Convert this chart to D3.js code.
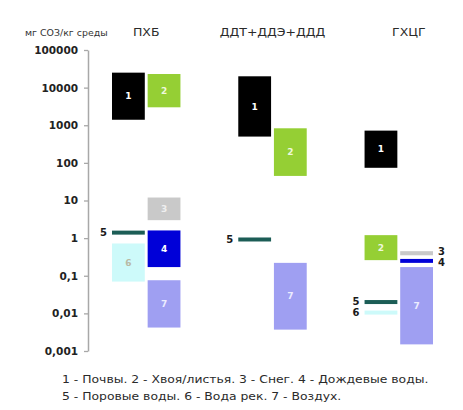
<!DOCTYPE html>
<html>
<head>
<meta charset="utf-8">
<script src="https://cdn.jsdelivr.net/npm/d3@7"></script>
<style>
  html, body { margin: 0; padding: 0; background: #fff; }
  svg { display: block; font-family: "DejaVu Sans", sans-serif; }
</style>
</head>
<body>
<svg id="chart" width="463" height="410"></svg>
<script>
// Groups of pollutants and the media numbered in the legend
const groups = ["ПХБ", "ДДТ+ДДЭ+ДДД", "ГХЦГ"];
const mediaCodes = [1, 2, 3, 4, 5, 6, 7];
const mediaNames = ["Почвы", "Хвоя/листья", "Снег", "Дождевые воды", "Поровые воды", "Вода рек", "Воздух"];

// Concentration ranges, mg POP per kg of medium (low == high means a single level)
const markGroup  = ["ПХБ", "ПХБ", "ПХБ", "ПХБ", "ПХБ", "ПХБ", "ПХБ",
                    "ДДТ+ДДЭ+ДДД", "ДДТ+ДДЭ+ДДД", "ДДТ+ДДЭ+ДДД", "ДДТ+ДДЭ+ДДД",
                    "ГХЦГ", "ГХЦГ", "ГХЦГ", "ГХЦГ", "ГХЦГ", "ГХЦГ", "ГХЦГ"];
const markCode   = [1, 2, 3, 5, 4, 6, 7,
                    1, 2, 5, 7,
                    1, 2, 3, 4, 7, 5, 6];
const markColumn = [0, 1, 1, 0, 1, 0, 1,
                    0, 1, 0, 1,
                    0, 0, 1, 1, 1, 0, 0];
const markLow    = [1400, 3000, 3, 1.4, 0.17, 0.07, 0.0042,
                    500, 45, 0.92, 0.0037,
                    74, 0.26, 0.35, 0.22, 0.0015, 0.02, 0.0105];
const markHigh   = [25000, 23000, 12, 1.4, 1.6, 0.72, 0.076,
                    20000, 830, 0.92, 0.22,
                    720, 1.2, 0.45, 0.28, 0.17, 0.02, 0.0105];

// Axis ticks
const tickValues = [0.001, 0.01, 0.1, 1, 10, 100, 1000, 10000, 100000];
const tickLabels = ["0,001", "0,01", "0,1", "1", "10", "100", "1000", "10000", "100000"];
const unitLabel = "мг СОЗ/кг среды";

// Colours per medium
const fillColor  = {1: "#000000", 2: "#95cf34", 3: "#c9c9c9", 4: "#0000d8", 5: "#1c5d56", 6: "#cdfafa", 7: "#9f9ff2"};
const labelColor = {1: "#ffffff", 2: "#eef8dc", 3: "#efefef", 4: "#ffffff", 5: "#ffffff", 6: "#b9b9a4", 7: "#ececff"};

const svg = d3.select("#chart");

const y = d3.scaleLog().domain([0.001, 100000]).range([351, 50]);
const xGroup = d3.scaleBand().domain(groups).range([112, 433]).paddingInner(0.458).paddingOuter(0);
const xCol = d3.scaleBand().domain([0, 1]).range([0, xGroup.bandwidth()]).paddingInner(0.08);

// Y axis
const axis = d3.axisLeft(y)
  .tickValues(tickValues)
  .tickFormat((d, i) => tickLabels[i])
  .tickSize(4)
  .tickSizeOuter(0);

const axisG = svg.append("g").attr("transform", "translate(88,0)").call(axis);
axisG.select(".domain").attr("stroke", "#a8a8a8").attr("stroke-width", 1.5);
axisG.selectAll(".tick line").attr("stroke", "#a8a8a8").attr("stroke-width", 1.3);
axisG.selectAll(".tick text")
  .attr("x", -10)
  .attr("fill", "#222")
  .style("font-family", "'DejaVu Sans', sans-serif")
  .style("font-weight", "bold")
  .style("font-size", "10.5px");

// Unit label and group titles (set slightly wide)
svg.append("text")
  .attr("transform", "translate(25,36) scale(1.12,1)")
  .attr("fill", "#333")
  .style("font-size", "8.4px")
  .text(unitLabel);

svg.selectAll("g.group-title")
  .data(groups)
  .join("g")
  .attr("class", "group-title")
  .attr("transform", d => `translate(${xGroup(d) + xGroup.bandwidth() / 2 + (d === "ГХЦГ" ? 10 : 0)},36) scale(1.25,1)`)
  .append("text")
  .attr("text-anchor", "middle")
  .attr("fill", "#2a2a2a")
  .style("font-size", "10px")
  .text(d => d);

// Marks
const marks = markCode.map((c, i) => ({
  group: markGroup[i], code: c, col: markColumn[i], low: markLow[i], high: markHigh[i]
}));

marks.forEach(m => {
  const x0 = xGroup(m.group) + xCol(m.col);
  const w = xCol.bandwidth();
  let top, h;
  if (m.low === m.high) {
    h = 4;
    top = y(m.low) - h / 2;
  } else {
    top = y(m.high);
    h = y(m.low) - y(m.high);
  }
  m.x = x0; m.w = w; m.top = top; m.h = h;
  m.inside = h >= 12;
  m.ly = top + h / 2;
});

// Spread outside labels that sit too close to one another
const minGap = 11;
d3.groups(marks.filter(m => !m.inside), m => m.group + "|" + m.col).forEach(([, list]) => {
  list.sort((a, b) => a.ly - b.ly);
  for (let i = 1; i < list.length; i++) {
    const gap = list[i].ly - list[i - 1].ly;
    if (gap < minGap) {
      const push = (minGap - gap) / 2;
      list[i - 1].ly -= push;
      list[i].ly += push;
    }
  }
});

svg.append("g").selectAll("rect")
  .data(marks)
  .join("rect")
  .attr("x", d => d.x)
  .attr("y", d => d.top)
  .attr("width", d => d.w)
  .attr("height", d => d.h)
  .attr("fill", d => fillColor[d.code]);

// Numbers: inside tall bars, beside thin marks
svg.append("g").selectAll("text")
  .data(marks)
  .join("text")
  .attr("x", d => d.inside ? d.x + d.w / 2 : (d.col === 0 ? d.x - 5 : d.x + d.w + 5))
  .attr("y", d => d.ly)
  .attr("dy", "0.36em")
  .attr("text-anchor", d => d.inside ? "middle" : (d.col === 0 ? "end" : "start"))
  .attr("fill", d => d.inside ? labelColor[d.code] : "#1a1a1a")
  .style("font-weight", "bold")
  .style("font-size", d => d.inside ? "9px" : "10px")
  .text(d => d.code);

// Legend (two lines, set slightly wide)
const legendItems = mediaCodes.map((c, i) => `${c} - ${mediaNames[i]}.`);
const legendLines = [legendItems.slice(0, 4).join(" "), legendItems.slice(4).join(" ")];

svg.append("g").selectAll("text")
  .data(legendLines)
  .join("text")
  .attr("transform", (d, i) => `translate(62,${383 + i * 17}) scale(1.18,1)`)
  .attr("fill", "#2a2a2a")
  .style("font-size", "10.5px")
  .text(d => d);
</script>
</body>
</html>
